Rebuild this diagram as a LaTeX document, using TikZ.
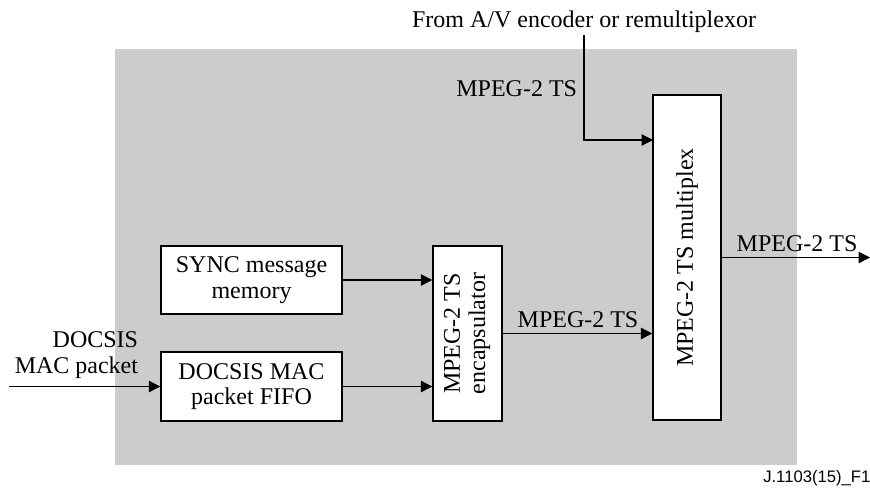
\documentclass[tikz,border=0pt]{standalone}
\usepackage{fontspec}
\setmainfont{Liberation Serif}
\newfontfamily\labelsans{Liberation Sans}
\usetikzlibrary{arrows.meta}
\definecolor{panelgray}{HTML}{CCCCCC}
\tikzset{
  blockbox/.style={draw=black, line width=1.1pt, fill=white, inner sep=0pt,
    align=center, font=\fontsize{18}{19}\selectfont},
  txt/.style={inner sep=2pt, font=\fontsize{18}{19}\selectfont},
  flow/.style={line width=0.9pt, -{Triangle[length=8.5pt,width=8.5pt]}},
  plain/.style={line width=0.9pt}
}
\begin{document}
\begin{tikzpicture}[x=0.75pt, y=-0.75pt]
  \useasboundingbox (0,0) rectangle (870,494);
  % shaded equipment area
  \fill[panelgray] (115,49) rectangle (797,465);

  % processing blocks
  \node[blockbox, minimum width=135.75pt, minimum height=51pt] (sync) at (251.5,280)
    {SYNC message\\memory};
  \node[blockbox, minimum width=135.75pt, minimum height=51.75pt] (fifo) at (251.5,386.5)
    {DOCSIS MAC\\packet FIFO};
  \node[blockbox, minimum width=51.75pt, minimum height=131.25pt] (enc) at (467.5,333.5)
    {\rotatebox{90}{\begin{tabular}{@{}c@{}}MPEG-2 TS\\encapsulator\end{tabular}}};
  \node[blockbox, minimum width=51pt, minimum height=243.75pt] (mux) at (687,257.5)
    {\rotatebox{90}{MPEG-2 TS multiplex}};

  % external inputs and output
  \node[txt, anchor=base] (src) at (584,27) {From A/V encoder or remultiplexor};
  \node[txt, anchor=east, align=right] (maclbl) at (141,355) {DOCSIS\\MAC packet};
  \coordinate (macin) at (9,386.5);
  \coordinate (muxin) at (653,140);
  \coordinate (tsout) at (870,257.5);

  % connectors
  \draw[flow] (macin) -- (fifo.west);
  \draw[flow] (sync.east) -- (sync.east -| enc.west);
  \draw[flow] (fifo.east) -- (fifo.east -| enc.west);
  \draw[flow] (enc.east) -- (enc.east -| mux.west);
  \draw[flow] (src.south) |- (muxin);
  \draw[flow] (mux.east) -- (tsout);

  % stream labels
  \node[txt, anchor=base east] (tsin) at (580,96) {MPEG-2 TS};
  \node[txt, anchor=base] (tsmid) at (578,327) {MPEG-2 TS};
  \node[txt, anchor=base] (tsoutlbl) at (797,251) {MPEG-2 TS};

  % figure reference
  \node[anchor=west, inner sep=0pt, font=\labelsans\fontsize{12.5}{14}\selectfont] (figref)
    at (763,478) {J.1103(15)\_F12};
\end{tikzpicture}
\end{document}
